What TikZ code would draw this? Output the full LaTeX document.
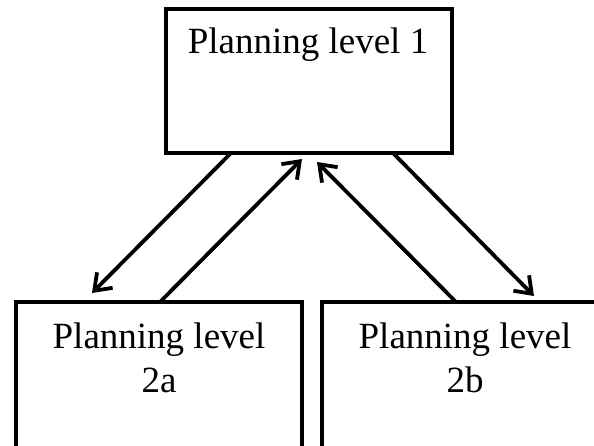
\documentclass[tikz,border=0pt]{standalone}
\usepackage{fontspec}
\setmainfont{Liberation Serif}
\usetikzlibrary{arrows.meta}
\begin{document}
\begin{tikzpicture}[x=1pt,y=-1pt,
  box/.style={draw, line width=4pt, rectangle, inner sep=0pt, outer sep=0pt,
    minimum width=286pt, minimum height=#1},
  box/.default=144pt,
  lbl/.style={font=\fontsize{37}{44.7}\selectfont, align=center, inner sep=0pt, anchor=base},
  conn/.style={line width=3.8pt, -{Straight Barb[length=15pt,width=22pt]}}]
  \useasboundingbox (0,0) rectangle (594,445);

  % planning boxes
  \node[box, anchor=north west] (top) at (166,9) {};
  \node[box=170pt, anchor=north west] (left) at (16,302) {};
  \node[box=170pt, anchor=north west] (right) at (322,302) {};

  % labels (base anchor sits on the last line)
  \node[lbl] (ttop) at (308,53) {Planning level 1};
  \node[lbl] (tleft) at (159,392.7) {Planning level\\2a};
  \node[lbl] (tright) at (465,392.7) {Planning level\\2b};

  % information flow between the levels
  \draw[conn] ([xshift=65pt]top.south west) -- ([xshift=76pt,yshift=9pt]left.north west);
  \draw[conn] ([xshift=144pt]left.north west) -- ([xshift=136pt,yshift=-6pt]top.south west);
  \draw[conn] ([xshift=134pt]right.north west) -- ([xshift=151pt,yshift=-9pt]top.south west);
  \draw[conn] ([xshift=227pt]top.south west) -- ([xshift=212pt,yshift=6pt]right.north west);
\end{tikzpicture}
\end{document}
